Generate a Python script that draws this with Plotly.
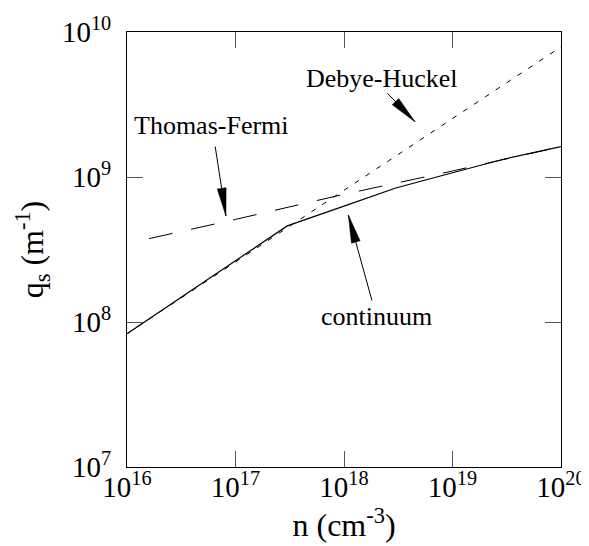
import math
import plotly.graph_objects as go

# ---- data ----
continuum_n = [1e16, 3e17, 1e18, 3e18, 1e19, 3e19, 1e20]
continuum_q = [8.3e7, 4.6e8, 6.3e8, 8.4e8, 1.07e9, 1.33e9, 1.62e9]

debye_n = [1e16, 1e20]
debye_q = [8.3e7, 7.9e9]

thomas_n = [1.6e16, 1e17, 1e18, 1e19, 1e20]
thomas_q = [3.76e8, 5.1e8, 7.6e8, 1.1e9, 1.62e9]

x_tick_exp = [16, 17, 18, 19, 20]
y_tick_exp = [7, 8, 9, 10]

FONT = "Liberation Serif"
X_RANGE = [16, 20]
Y_RANGE = [7, 10]

# page body has an 8px margin, so the figure is sized to fit the window
FIG_W, FIG_H = 581, 538
M_L, M_R, M_T, M_B = 119, 28, 24, 79
PLOT_W = FIG_W - M_L - M_R
PLOT_H = FIG_H - M_T - M_B

fig = go.Figure()
fig.add_trace(go.Scatter(x=debye_n, y=debye_q, mode="lines",
                         line=dict(color="black", width=1, dash="5px,8px"),
                         name="Debye-Huckel", showlegend=False))
fig.add_trace(go.Scatter(x=thomas_n, y=thomas_q, mode="lines",
                         line=dict(color="black", width=1, dash="24px,19px"),
                         name="Thomas-Fermi", showlegend=False))
fig.add_trace(go.Scatter(x=continuum_n, y=continuum_q, mode="lines",
                         line=dict(color="black", width=1.2),
                         name="continuum", showlegend=False))

axis_common = dict(
    type="log", showgrid=False, zeroline=False, automargin=False,
    showline=True, linecolor="black", linewidth=1, mirror="ticks",
    ticks="inside", ticklen=16, tickwidth=1, tickcolor="#555555",
    tickfont=dict(family=FONT, size=29, color="black"),
)

fig.update_xaxes(**axis_common,
                 range=X_RANGE,
                 tickvals=[10.0 ** e for e in x_tick_exp],
                 ticktext=[f"10<sup>{e}</sup>" for e in x_tick_exp],
                 ticklabelstandoff=-6,
                 title=dict(text="n (cm<sup>-3</sup>)",
                            font=dict(family=FONT, size=32, color="black"),
                            standoff=2))
fig.update_yaxes(**axis_common,
                 range=Y_RANGE,
                 tickvals=[10.0 ** e for e in y_tick_exp],
                 ticktext=[f"10<sup>{e}</sup>" for e in y_tick_exp],
                 ticklabelstandoff=9,
                 title=dict(text="q<sub>s</sub> (m<sup>-1</sup>)",
                            font=dict(family=FONT, size=32, color="black"),
                            standoff=8))

ann_font = dict(family=FONT, size=26, color="black")
# text labels (positions in log10 units of the axes)
fig.add_annotation(x=16.779, y=9.352, text="Thomas-Fermi", showarrow=False, font=ann_font)
fig.add_annotation(x=18.347, y=9.679, text="Debye-Huckel", showarrow=False, font=ann_font)
fig.add_annotation(x=18.304, y=8.037, text="continuum", showarrow=False, font=ann_font)

# pointer arrows: head at (x, y) in log10 units, tail offset (ax, ay) in pixels
arrows = [
    (16.912, 8.731, -11, -71),
    (18.654, 9.381, -29, -30),
    (18.040, 8.738, 24, 87),
]
HEAD_LEN, HEAD_W = 28, 9


def to_paper(lx, ly, ox=0.0, oy=0.0):
    px = (lx - X_RANGE[0]) / (X_RANGE[1] - X_RANGE[0]) + ox / PLOT_W
    py = (ly - Y_RANGE[0]) / (Y_RANGE[1] - Y_RANGE[0]) - oy / PLOT_H
    return px, py


for lx, ly, ax, ay in arrows:
    # shaft
    fig.add_annotation(x=lx, y=ly, ax=ax, ay=ay, axref="pixel", ayref="pixel",
                       text="", showarrow=True, arrowhead=0, arrowwidth=1,
                       arrowcolor="black", standoff=0, startstandoff=0)
    # narrow filled head
    d = math.hypot(ax, ay)
    ux, uy = ax / d, ay / d
    nx, ny = -uy, ux
    pts = [(0.0, 0.0),
           (HEAD_LEN * ux + HEAD_W / 2 * nx, HEAD_LEN * uy + HEAD_W / 2 * ny),
           (HEAD_LEN * ux - HEAD_W / 2 * nx, HEAD_LEN * uy - HEAD_W / 2 * ny)]
    pp = [to_paper(lx, ly, ox, oy) for ox, oy in pts]
    path = "M {:.5f},{:.5f} L {:.5f},{:.5f} L {:.5f},{:.5f} Z".format(
        pp[0][0], pp[0][1], pp[1][0], pp[1][1], pp[2][0], pp[2][1])
    fig.add_shape(type="path", xref="paper", yref="paper", path=path,
                  fillcolor="black", line=dict(color="black", width=0.5))

fig.update_layout(
    width=FIG_W, height=FIG_H,
    margin=dict(l=M_L, r=M_R, t=M_T, b=M_B, pad=0),
    plot_bgcolor="white", paper_bgcolor="white",
    font=dict(family=FONT, color="black"),
)

fig.write_html("out.html")
